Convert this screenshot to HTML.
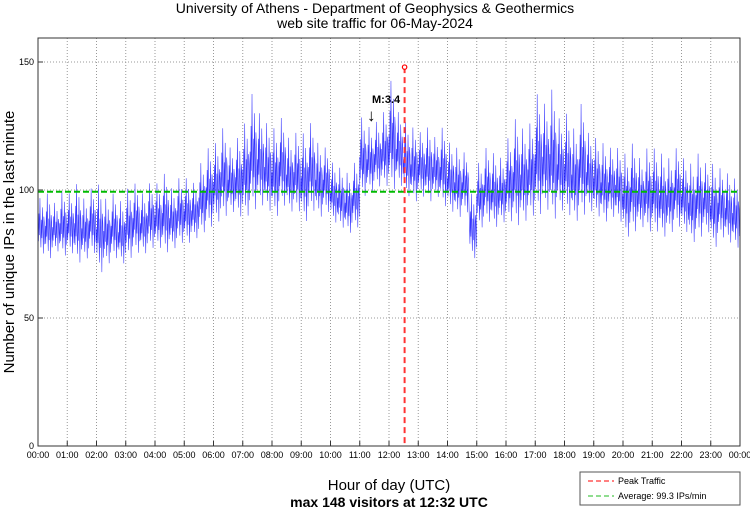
<!DOCTYPE html>
<html><head><meta charset="utf-8"><style>
body{margin:0;background:#fff;}
svg{display:block;font-family:"Liberation Sans",sans-serif;}
</style></head><body>
<svg id="chart" width="750" height="511" viewBox="0 0 750 511">
<text x="375" y="13" text-anchor="middle" font-size="14">University of Athens - Department of Geophysics &amp; Geothermics</text>
<text x="375" y="28" text-anchor="middle" font-size="14">web site traffic for 06-May-2024</text>
<g id="grid"></g>
<g id="series"></g>
<g id="axes"></g>
<text transform="translate(14,242) rotate(-90)" text-anchor="middle" font-size="15">Number of unique IPs in the last minute</text>
<text x="389" y="490" text-anchor="middle" font-size="15">Hour of day (UTC)</text>
<text x="389" y="507" text-anchor="middle" font-size="14" font-weight="bold">max 148 visitors at 12:32 UTC</text>
<g>
<rect x="580" y="472" width="160" height="33" fill="#fff" stroke="#555" stroke-width="1"/>
<line x1="588" y1="481" x2="614" y2="481" stroke="#f00" stroke-dasharray="5,3"/>
<text x="618" y="484" font-size="9">Peak Traffic</text>
<line x1="588" y1="496" x2="614" y2="496" stroke="#2b2" stroke-dasharray="5,3"/>
<text x="618" y="499" font-size="9">Average: 99.3 IPs/min</text>
</g>
</svg>
<script>
const loVals=[74,72,75,73,74,70,72,74,66,70,72,70,72,74,74,76,76,74,76,78,78,80,82,84,86,88,90,88,88,90,92,90,88,92,90,90,86,90,88,90,86,84,82,84,96,98,100,100,98,100,96,94,96,94,96,92,90,88,90,72,84,86,84,86,86,84,86,88,88,90,86,90,88,86,88,90,88,86,88,86,80,82,84,82,82,80,82,84,82,78,80,82,76,80,78,76];
const hiVals=[98,100,96,101,100,104,98,102,104,98,100,97,102,104,100,104,104,108,102,106,106,104,112,118,120,126,118,122,128,140,132,128,126,130,122,124,124,128,120,118,112,110,108,112,130,126,128,132,145,132,128,126,124,126,122,126,120,118,116,100,112,118,116,114,122,130,126,128,140,136,142,130,132,126,136,124,122,120,118,118,116,120,114,118,118,116,114,118,114,112,116,112,112,110,108,106];
const shapeFrac=[0.5,0.25,0.7,0.35,0.95,0.4,0.15,0.6,0.3,0.8,0.45,0.05,0.65,0.55,0.2];
const hourLabels=["00:00","01:00","02:00","03:00","04:00","05:00","06:00","07:00","08:00","09:00","10:00","11:00","12:00","13:00","14:00","15:00","16:00","17:00","18:00","19:00","20:00","21:00","22:00","23:00","00:00"];
const yTicks=[0,50,100,150];
const avgVal=99.3;
const peakVal=148;
const peakMinute=12*60+32;
const NS="http://www.w3.org/2000/svg";
const L=38,R=740,T=38,B=446;
const xs=m=>L+m/1440*(R-L);
const ys=v=>B-v*2.56;
function mk(p,tag,a){const e=document.createElementNS(NS,tag);for(const k in a)e.setAttribute(k,a[k]);p.appendChild(e);return e;}
const grid=document.getElementById('grid'),axes=document.getElementById('axes'),ser=document.getElementById('series');
mk(grid,'rect',{x:L,y:T,width:R-L,height:B-T,fill:'#fff'});
hourLabels.forEach((h,i)=>{const x=xs(i*60);
 if(i>0&&i<24){const g=mk(grid,'line',{x1:x,y1:T,x2:x,y2:B,stroke:'#999','stroke-dasharray':'1,2'});}
 mk(axes,'line',{x1:x,y1:B,x2:x,y2:B-5,stroke:'#333'});
 const t=mk(axes,'text',{x:x,y:B+12,'text-anchor':'middle','font-size':'9'});t.textContent=h;
 
 
});
yTicks.forEach(v=>{const y=ys(v);
 if(v>0){const g=mk(grid,'line',{x1:L,y1:y,x2:R,y2:y,stroke:'#999','stroke-dasharray':'1,2'});}
 mk(axes,'line',{x1:L,y1:y,x2:L+5,y2:y,stroke:'#333'});
 const t=mk(axes,'text',{x:L-4,y:y+3,'text-anchor':'end','font-size':'9'});t.textContent=v;
 
 
});
mk(axes,'rect',{x:L,y:T,width:R-L,height:B-T,fill:'none',stroke:'#333','stroke-width':1});
let pts=[];
loVals.forEach((lo,b)=>{const hi=hiVals[b];
 shapeFrac.forEach((f,k)=>{const m=b*15+k;pts.push(xs(m).toFixed(2)+','+ys(lo+(hi-lo)*f).toFixed(2));});
});
const line=mk(ser,'polyline',{points:pts.join(' '),fill:'none',stroke:'#00f','stroke-width':0.55,'stroke-opacity':0.8});


const avg=mk(ser,'line',{x1:L,y1:ys(avgVal),x2:R,y2:ys(avgVal),stroke:'#0b0','stroke-width':2,'stroke-dasharray':'6,3'});


const px=xs(peakMinute);
const pk=mk(ser,'line',{x1:px,y1:ys(peakVal),x2:px,y2:B,stroke:'#f33','stroke-width':2,'stroke-dasharray':'6,4'});


const pc=mk(ser,'circle',{cx:px,cy:ys(peakVal),r:2.2,fill:'#fff',stroke:'#f00','stroke-width':1.2});


const ann=mk(ser,'text',{x:372,y:103,'font-size':'11','font-weight':'bold'});ann.textContent='M:3.4';


const ar=mk(ser,'text',{x:367,y:121,'font-size':'17'});ar.textContent='↓';


</script>
</body></html>
